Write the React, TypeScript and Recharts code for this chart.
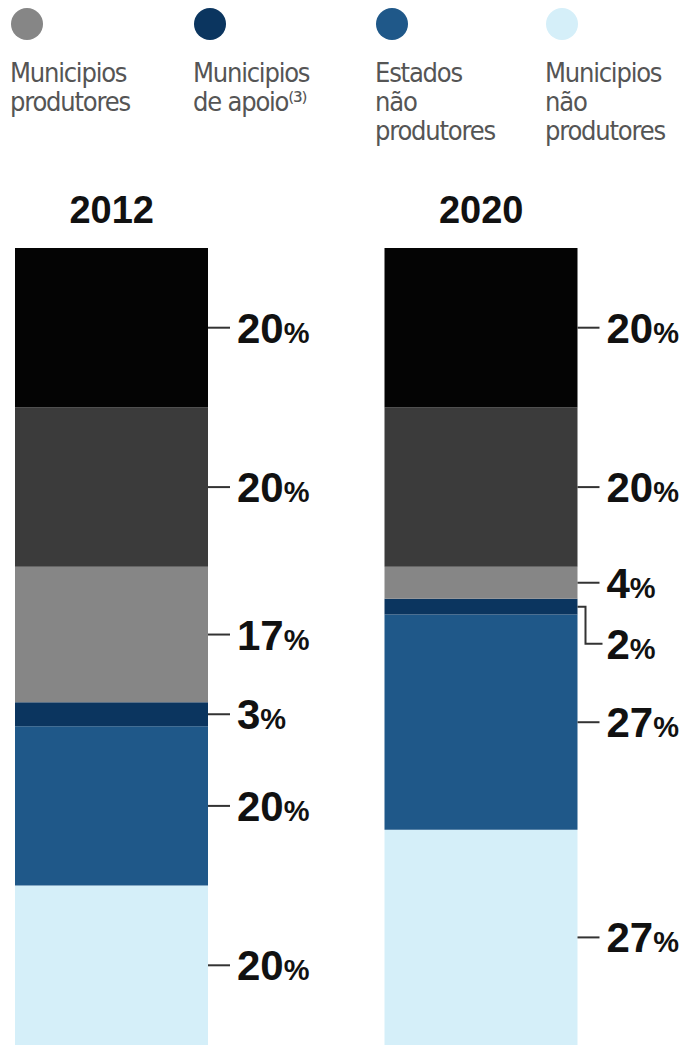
import { Bar, BarChart, LabelList, Legend, XAxis, YAxis } from "recharts";

const YEARS = ["2012", "2020"];
const UNIAO = [20, 20];
const ESTADOS_PRODUTORES = [20, 20];
const MUNICIPIOS_PRODUTORES = [17, 4];
const MUNICIPIOS_APOIO = [3, 2];
const ESTADOS_NAO_PRODUTORES = [20, 27];
const MUNICIPIOS_NAO_PRODUTORES = [20, 27];

// bottom of the stack first
const SERIES = [
  { key: "munNao", name: "Municipios\nnão\nprodutores", color: "#d5eff9", legend: true },
  { key: "estNao", name: "Estados\nnão\nprodutores", color: "#1f5889", legend: true },
  { key: "apoio", name: "Municipios\nde apoio⁽³⁾", color: "#0b355f", legend: true },
  { key: "munProd", name: "Municipios\nprodutores", color: "#868686", legend: true },
  { key: "estProd", name: "Estados produtores", color: "#3b3b3b", legend: false },
  { key: "uniao", name: "União", color: "#040404", legend: false },
];

const LEGEND_ORDER = ["munProd", "apoio", "estNao", "munNao"];

const data = YEARS.map((year, i) => ({
  year,
  uniao: UNIAO[i],
  estProd: ESTADOS_PRODUTORES[i],
  munProd: MUNICIPIOS_PRODUTORES[i],
  apoio: MUNICIPIOS_APOIO[i],
  estNao: ESTADOS_NAO_PRODUTORES[i],
  munNao: MUNICIPIOS_NAO_PRODUTORES[i],
}));

const LEGEND_LEFT = [10, 193, 375, 545];
const BOLD = "'Liberation Sans', Arial, sans-serif";
const LIGHT = "'Liberation Sans Narrow', 'DejaVu Sans Condensed', sans-serif";

function LegendContent({ payload }: any) {
  const items = (payload ?? [])
    .filter((p: any) => LEGEND_ORDER.includes(p.dataKey))
    .sort((a: any, b: any) => LEGEND_ORDER.indexOf(a.dataKey) - LEGEND_ORDER.indexOf(b.dataKey));
  return (
    <div style={{ position: "relative", width: 691, height: 160 }}>
      {items.map((p: any, i: number) => (
        <div key={p.dataKey} style={{ position: "absolute", left: LEGEND_LEFT[i], top: 0 }}>
          <div
            style={{
              width: 32,
              height: 32,
              borderRadius: "50%",
              background: p.color,
              marginLeft: 1,
              marginTop: 8,
            }}
          />
          <div
            style={{
              fontFamily: LIGHT,
              fontSize: 27,
              lineHeight: "29px",
              color: "#555",
              whiteSpace: "pre-line",
              marginTop: 18,
              letterSpacing: -1.2,
            }}
          >
            {p.value}
          </div>
        </div>
      ))}
    </div>
  );
}

function PctLabel(props: any) {
  const { x, y, width, height, value } = props;
  const right = x + width;
  const cy = y + height / 2;
  const small = height < 20;
  const ty = small ? cy + 37 : cy;
  const path = small
    ? `M${right},${cy}H${right + 8}V${ty}H${right + 25}`
    : `M${right},${cy}H${right + 22}`;
  return (
    <g>
      <path d={path} stroke="#333" strokeWidth={2} fill="none" />
      <text x={right + 29} y={ty + 15} fontFamily={BOLD} fontWeight="bold" fontSize={42} fill="#111">
        <tspan>{value}</tspan>
        <tspan fontSize={29}>%</tspan>
      </text>
    </g>
  );
}

function YearTick(props: any) {
  const { x, y, payload } = props;
  return (
    <text x={x} y={y - 17} textAnchor="middle" fontFamily={BOLD} fontWeight="bold" fontSize={38} fill="#111">
      {payload.value}
    </text>
  );
}

export default function App() {
  return (
    <div style={{ position: "absolute", left: 0, top: 0, width: 691, height: 1055, background: "#fff" }}>
      <BarChart
        width={691}
        height={1055}
        data={data}
        margin={{ top: 208, right: 25, left: -73, bottom: 10 }}
      >
        <XAxis
          dataKey="year"
          orientation="top"
          height={40}
          axisLine={false}
          tickLine={false}
          interval={0}
          tick={<YearTick />}
        />
        <YAxis hide domain={[0, 100]} />
        <Legend
          verticalAlign="middle"
          align="center"
          layout="horizontal"
          wrapperStyle={{ top: 0, left: 0, width: 691 }}
          content={<LegendContent />}
        />
        {SERIES.map((s) => (
          <Bar
            key={s.key}
            dataKey={s.key}
            name={s.name}
            stackId="a"
            fill={s.color}
            barSize={193}
            legendType={s.legend ? "circle" : "none"}
            isAnimationActive={false}
          >
            <LabelList dataKey={s.key} content={<PctLabel />} />
          </Bar>
        ))}
      </BarChart>
    </div>
  );
}
